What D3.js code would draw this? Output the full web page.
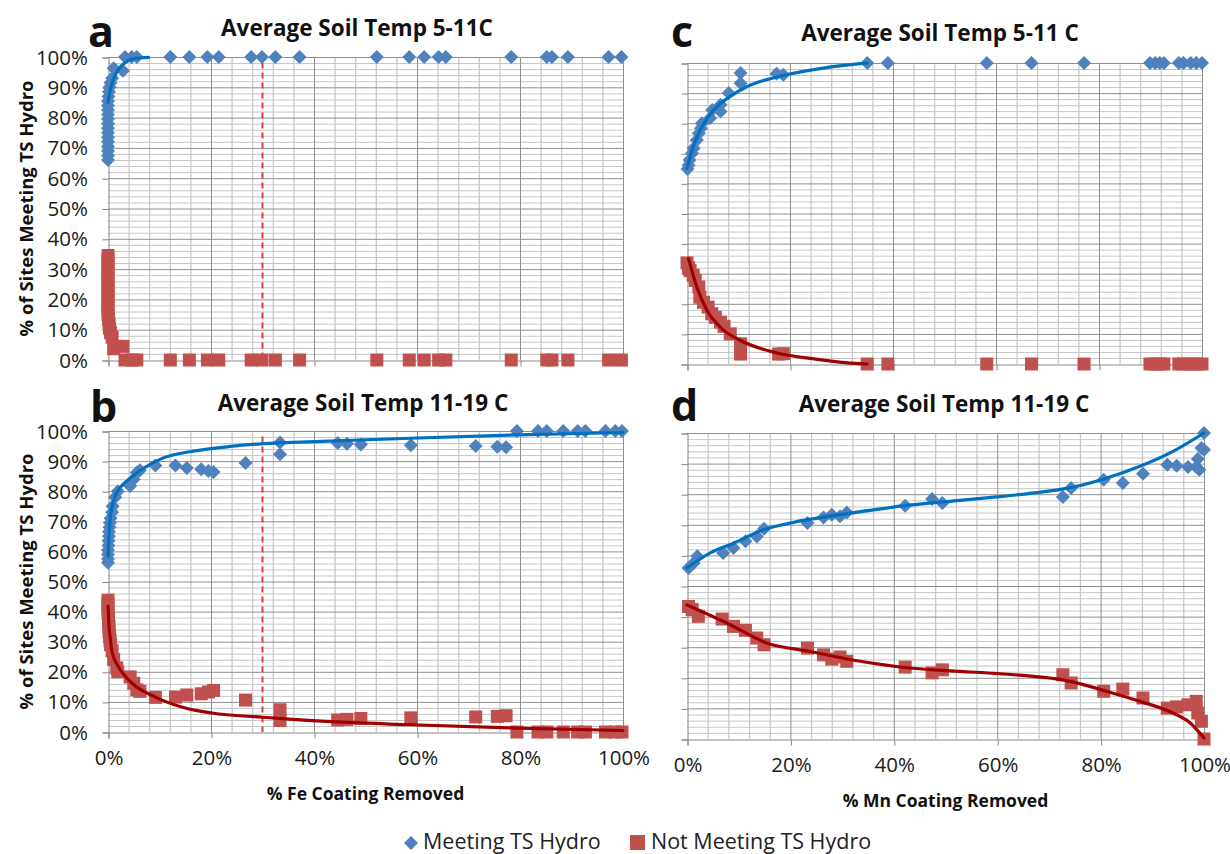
<!DOCTYPE html>
<html><head><meta charset="utf-8">
<script src="https://cdn.jsdelivr.net/npm/d3@7"></script>
<style>body{margin:0;background:#fff}svg{display:block}text{font-family:"Open Sans",sans-serif}</style>
</head><body>
<svg id="chart" width="1230" height="854"></svg>
<script>
// ---------- DATA ----------
const yTickValues = [0,10,20,30,40,50,60,70,80,90,100];
const yTickLabels = ["0%","10%","20%","30%","40%","50%","60%","70%","80%","90%","100%"];
const xTickValues = [0,20,40,60,80,100];
const xTickLabels = ["0%","20%","40%","60%","80%","100%"];
const panelTitles = ["Average Soil Temp 5-11C","Average Soil Temp 11-19 C","Average Soil Temp 5-11 C","Average Soil Temp 11-19 C"];
const panelLetters = ["a","b","c","d"];
const xTitles = ["% Fe Coating Removed","% Mn Coating Removed"];
const yTitle = "% of Sites Meeting TS Hydro";
const legendLabels = ["Meeting TS Hydro","Not Meeting TS Hydro"];
const feThreshold = 30;

// Panel a (Fe, 5-11C): [x %, y %]
const aMeet = [[0,66],[0,67.5],[0,69],[0,70.5],[0,72],[0,73.5],[0,75],[0,76.5],[0,78],[0,79.5],[0,81],[0,82.5],[0,84],[0,85.5],[0.1,87],[0.2,88.5],[0.3,90],[0.5,91.5],[0.8,93],[1.1,96.3],[2.9,95.5],[3.3,100],[4.6,100],[5.6,100],[12.1,100],[15.8,100],[19.3,100],[21.5,100],[27.8,100],[29.9,100],[32.5,100],[37.2,100],[52.2,100],[58.5,100],[61.4,100],[64.2,100],[65.6,100],[78.3,100],[85.2,100],[86.2,100],[89.3,100],[97.2,100],[99.7,100]];
const aNot = [[0,34.5],[0,33],[0,31.5],[0,30],[0,28.5],[0,27],[0,25.5],[0,24],[0,22.5],[0,21],[0,19.5],[0,18],[0,16.5],[0,15],[0.1,13.5],[0.2,12],[0.3,10.5],[0.5,9],[0.8,7.5],[1.1,3.7],[2.9,4.5],[3.3,0],[4.6,0],[5.6,0],[12.1,0],[15.8,0],[19.3,0],[21.5,0],[27.8,0],[29.9,0],[32.5,0],[37.2,0],[52.2,0],[58.5,0],[61.4,0],[64.2,0],[65.6,0],[78.3,0],[85.2,0],[86.2,0],[89.3,0],[97.2,0],[99.7,0]];
const aMeetFit = [[0,85],[0.5,89.5],[1,92.5],[2,95.8],[3.9,98.8],[5.5,99.6],[7.9,99.9]];
const aNotFit = [];

// Panel b (Fe, 11-19C)
const bMeet = [[0,56.2],[0,57.5],[0,59],[0,60.5],[0.1,62],[0.1,63.5],[0.2,65],[0.2,66.5],[0.3,68],[0.4,69.5],[0.5,71],[0.8,73],[0.9,75],[1.4,78],[1.9,80],[4.3,81.7],[5,84],[5.6,86.2],[6.2,87],[9.2,88.5],[13.1,88.5],[15.3,87.7],[18.1,87.3],[19.5,86.7],[20.5,86.4],[26.7,89.4],[33.4,96.2],[33.4,92.3],[44.6,96],[46.4,95.8],[49.1,95.5],[58.8,95.3],[71.4,95],[75.6,94.8],[77.3,94.6],[79.4,100],[83.5,100],[85.2,100],[88.4,100],[91.2,100],[92.7,100],[96.6,100],[98.5,100],[99.8,100]];
const bNot = [[0,43.8],[0,42.5],[0,41],[0,39.5],[0.1,38],[0.1,36.5],[0.2,35],[0.2,33.5],[0.3,32],[0.4,30.5],[0.5,29],[0.8,27],[1.1,24.1],[1.7,21.3],[1.9,20],[4.3,18.3],[5,16.2],[5.6,14],[6.2,13.5],[9.2,11.5],[13.1,11.6],[15.3,12.3],[18.1,12.7],[19.5,13.3],[20.5,13.8],[26.7,10.6],[33.4,7.4],[33.4,3.8],[44.6,4],[46.4,4.2],[49.1,4.5],[58.8,4.7],[71.4,5],[75.6,5.2],[77.3,5.4],[79.4,0],[83.5,0],[85.2,0],[88.4,0],[91.2,0],[92.7,0],[96.6,0],[98.5,0],[99.8,0]];
const bMeetFit = [[0.02,58.4],[0.2,65.5],[0.4,70.6],[0.8,74.8],[1.4,78.4],[2.5,81.5],[4,83.9],[6.6,87.3],[10.5,90.9],[16.9,93.4],[23.4,94.8],[32.5,96],[37.3,96.3],[58.7,97.6],[79.4,98.7],[100,99.5]];
const bNotFit = [[0.02,41.8],[0.2,35],[0.4,31.8],[0.8,26.5],[2,21.8],[4.7,16.2],[9.2,11.6],[15,8],[20.2,6.3],[30,4.9],[37.3,4],[58.7,2.4],[79.4,1.3],[100,0.5]];

// Panel c (Mn, 5-11C)
const cMeet = [[0.1,64.8],[0.3,66],[0.5,67.8],[1,70],[1.3,71.7],[1.9,74.4],[2.3,76.7],[2.7,78.3],[2.9,80],[4.5,81.7],[4.9,84.4],[6.5,83.9],[6.5,86.1],[8.1,90],[10.4,93.3],[10.4,96.7],[17.4,96.4],[18.7,96.1],[35,100],[39,100],[58.2,100],[66.9,100],[77.1,100],[89.9,100],[90.9,100],[91.8,100],[92.6,100],[95.5,100],[96.4,100],[97.8,100],[98.9,100],[100,100]];
const cNot = [[0,33.6],[0.3,32],[0.6,31],[1.2,29.5],[1.6,27.8],[2.3,25.6],[2.5,22.2],[3.2,20.5],[4.1,18.9],[4.8,16.7],[5.5,15.5],[6.5,13.9],[7.2,12.5],[8.4,10],[10.4,6.7],[10.4,3.3],[17.8,3.3],[18.7,3.4],[35,0],[39,0],[58.2,0],[66.9,0],[77.1,0],[89.9,0],[90.9,0],[91.8,0],[92.6,0],[95.5,0],[96.4,0],[97.8,0],[98.9,0],[100,0]];
const cMeetFit = [[0,65],[1.2,72.2],[2.6,77.8],[5.2,84.4],[8.4,88.9],[11.7,92.2],[18.1,95.6],[24.6,97.8],[33.6,99.8],[35,100]];
const cNotFit = [[0.3,35],[1.9,25.6],[3.9,17.8],[6.5,12.2],[10.4,7.8],[16.9,3.9],[24.6,1.7],[33.6,0.1],[35,0]];

// Panel d (Mn, 11-19C)
const dMeet = [[0.3,55.9],[1.3,57.5],[2,59.7],[7,60.8],[9,62.4],[11.3,64.6],[13.5,66.2],[14.9,68.7],[23.3,70.6],[26.4,72.4],[28,73.3],[29.6,72.8],[30.9,74],[42.2,76.2],[47.4,78.4],[49.4,77.1],[72.7,79.1],[74.3,82],[80.6,84.7],[84.3,83.7],[88.2,86.7],[92.9,89.6],[94.7,89.3],[96.9,88.9],[98.5,88.9],[98.8,91.5],[99.1,88],[99.5,95.1],[100,94.5],[100,100]];
const dNot = [[0.3,43.3],[1,42.3],[2.2,40.1],[6.8,39.2],[9,36.8],[11.3,35.5],[13.5,33],[14.9,30.8],[23.3,29.7],[26.4,27.5],[28,26.1],[29.6,26.8],[30.9,25.4],[42.2,23.5],[47.4,21.6],[49.4,22.6],[72.7,21],[74.3,18.3],[80.6,15.6],[84.3,16.3],[88.2,13.4],[92.9,10.1],[94.7,10.5],[96.9,11.2],[98.5,12.3],[98.8,8.5],[99.5,5.8],[100,0]];
const dMeetFit = [[0,55.9],[4.5,60.8],[9,64],[14.8,68.4],[20.6,70.8],[29.6,73.3],[39.9,75.8],[52.8,78],[59.9,79.1],[66,80.2],[74.7,82.3],[81.1,85.2],[87.6,89.1],[94,94],[100,100]];
const dNotFit = [[0,43.8],[7.7,37.9],[15.4,31.4],[23.8,28.6],[33.5,25.4],[43.1,23.2],[52.8,22.1],[59.9,21.4],[66,20.6],[72.7,19.3],[77,17.6],[81.1,15.6],[87.6,12.3],[94,8.5],[97.5,5],[100,0.3]];

// ---------- STYLE / LAYOUT ----------
const C = {
  meet:"#4F81BD", not:"#C0504D", meetFit:"#0070C0", notFit:"#A00000",
  minor:"#c6c6c6", major:"#8f8f8f", axis:"#868686", dash:"#E23B3B"
};
const svg = d3.select("#chart");

const panels = [
  {box:[108,623,57,360], meet:aMeet, not:aNot, meetFit:aMeetFit, notFit:aNotFit, title:panelTitles[0], letter:panelLetters[0],
   titleX:357, titleY:36, letterX:88, letterY:47, yLabels:true, xLabels:false, xTitle:null, threshold:feThreshold, yTitleShow:true},
  {box:[108,623,431,732], meet:bMeet, not:bNot, meetFit:bMeetFit, notFit:bNotFit, title:panelTitles[1], letter:panelLetters[1],
   titleX:363, titleY:411, letterX:90, letterY:422, yLabels:true, xLabels:true, xTitle:xTitles[0], xTitleY:800, threshold:feThreshold, yTitleShow:true},
  {box:[687,1202,63,364], meet:cMeet, not:cNot, meetFit:cMeetFit, notFit:cNotFit, title:panelTitles[2], letter:panelLetters[2],
   titleX:940, titleY:41, letterX:671, letterY:47, yLabels:false, xLabels:false, xTitle:null, threshold:null, yTitleShow:false},
  {box:[687,1204,433,739], meet:dMeet, not:dNot, meetFit:dMeetFit, notFit:dNotFit, title:panelTitles[3], letter:panelLetters[3],
   titleX:944, titleY:412, letterX:671, letterY:421, yLabels:false, xLabels:true, xTitle:xTitles[1], xTitleY:807, threshold:null, yTitleShow:false}
];

const diamond = r => `M0,${-r}L${r},0L0,${r}L${-r},0Z`;

panels.forEach(p => {
  const [x0,x1,yT,yB] = p.box;
  const x = d3.scaleLinear().domain([0,100]).range([x0,x1]);
  const y = d3.scaleLinear().domain([0,100]).range([yB,yT]);
  const g = svg.append("g");

  // minor gridlines
  g.append("g").selectAll("line").data(d3.range(0,101,2).filter(v=>v%10!==0)).join("line")
    .attr("x1",x0).attr("x2",x1).attr("y1",d=>y(d)+0.5).attr("y2",d=>y(d)+0.5)
    .attr("stroke",C.minor).attr("stroke-width",1);
  g.append("g").selectAll("line").data(d3.range(0,101,4).filter(v=>v%20!==0)).join("line")
    .attr("y1",yT).attr("y2",yB).attr("x1",d=>x(d)+0.5).attr("x2",d=>x(d)+0.5)
    .attr("stroke",C.minor).attr("stroke-width",1.2);
  // major gridlines
  g.append("g").selectAll("line").data(yTickValues.slice(1)).join("line")
    .attr("x1",x0).attr("x2",x1).attr("y1",d=>y(d)+0.5).attr("y2",d=>y(d)+0.5)
    .attr("stroke",C.major).attr("stroke-width",1);
  g.append("g").selectAll("line").data(xTickValues.slice(1)).join("line")
    .attr("y1",yT).attr("y2",yB).attr("x1",d=>x(d)+0.5).attr("x2",d=>x(d)+0.5)
    .attr("stroke",C.major).attr("stroke-width",1);

  // axes
  const yAxis = d3.axisLeft(y).tickValues(yTickValues).tickSize(6)
    .tickFormat((d,i)=> p.yLabels ? yTickLabels[i] : "");
  const ya = g.append("g").attr("transform",`translate(${x0+0.5},0.5)`).call(yAxis);
  ya.select(".domain").attr("stroke",C.axis);
  ya.selectAll(".tick line").attr("stroke",C.axis);
  ya.selectAll(".tick text").attr("font-size",20.5).attr("fill","#1a1a1a").attr("x",-20.5)
    .style("font-family","'Open Sans',sans-serif");

  const xAxis = d3.axisBottom(x).tickValues(xTickValues).tickSize(6)
    .tickFormat((d,i)=> p.xLabels ? xTickLabels[i] : "");
  const xa = g.append("g").attr("transform",`translate(0.5,${yB+0.5})`).call(xAxis);
  xa.select(".domain").attr("stroke",C.axis);
  xa.selectAll(".tick line").attr("stroke",C.axis);
  xa.selectAll(".tick text").attr("font-size",20.5).attr("fill","#1a1a1a").attr("y",18)
    .style("font-family","'Open Sans',sans-serif");

  // threshold
  if (p.threshold !== null) {
    g.append("line").attr("x1",x(p.threshold)).attr("x2",x(p.threshold))
      .attr("y1",y(98.2)).attr("y2",yB).attr("stroke",C.dash).attr("stroke-width",2)
      .attr("stroke-dasharray","6,4");
  }

  // markers
  g.append("g").selectAll("rect").data(p.not).join("rect")
    .attr("x",d=>x(d[0])-6.5).attr("y",d=>y(d[1])-6.5).attr("width",13).attr("height",13)
    .attr("fill",C.not);
  g.append("g").selectAll("path").data(p.meet).join("path")
    .attr("transform",d=>`translate(${x(d[0])},${y(d[1])})`).attr("d",diamond(7))
    .attr("fill",C.meet);

  // fitted curves
  const line = d3.line().x(d=>x(d[0])).y(d=>y(d[1])).curve(d3.curveMonotoneX);
  if (p.notFit.length) g.append("path").datum(p.notFit).attr("d",line).attr("fill","none")
    .attr("stroke",C.notFit).attr("stroke-width",3.2).attr("stroke-linecap","round");
  if (p.meetFit.length) g.append("path").datum(p.meetFit).attr("d",line).attr("fill","none")
    .attr("stroke",C.meetFit).attr("stroke-width",3.2).attr("stroke-linecap","round");

  // titles
  svg.append("text").attr("x",p.titleX).attr("y",p.titleY).attr("text-anchor","middle")
    .attr("font-size",22.5).attr("font-weight","bold").attr("fill","#111").text(p.title);
  svg.append("text").attr("x",p.letterX).attr("y",p.letterY)
    .attr("font-size",43).attr("font-weight","bold").attr("fill","#111").text(p.letter);
  if (p.xTitle) svg.append("text").attr("x",(x0+x1)/2).attr("y",p.xTitleY).attr("text-anchor","middle")
    .attr("font-size",17.5).attr("font-weight","bold").attr("fill","#111").text(p.xTitle);
  if (p.yTitleShow) svg.append("text")
    .attr("transform",`translate(25,${(yT+yB)/2}) rotate(-90)`).attr("text-anchor","middle")
    .attr("dominant-baseline","central")
    .attr("font-size",18.5).attr("font-weight","bold").attr("fill","#111").text(yTitle);
});

// legend
const lg = svg.append("g");
lg.append("path").attr("transform","translate(411,843)").attr("d",diamond(7)).attr("fill",C.meet);
lg.append("text").attr("x",423).attr("y",849).attr("font-size",21.5).attr("fill","#222").text(legendLabels[0]);
lg.append("rect").attr("x",630).attr("y",835).attr("width",15).attr("height",15).attr("fill",C.not);
lg.append("text").attr("x",651).attr("y",849).attr("font-size",21.5).attr("fill","#222").text(legendLabels[1]);
</script>
</body></html>
